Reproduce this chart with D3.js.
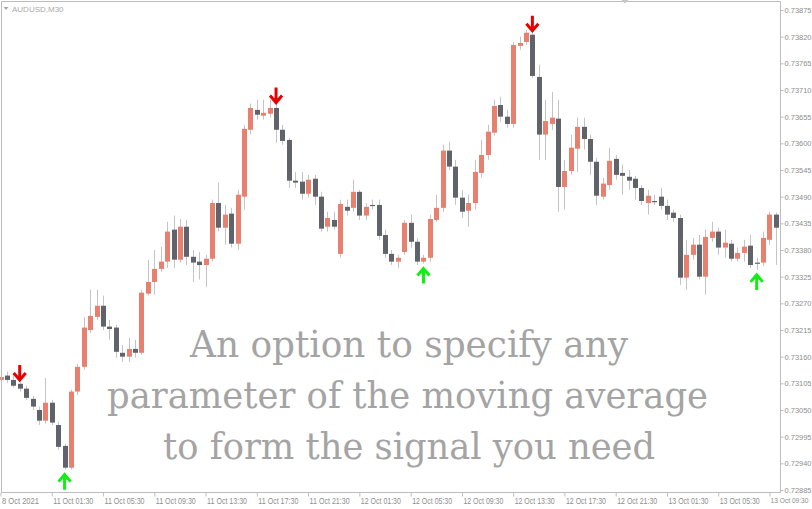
<!DOCTYPE html>
<html><head><meta charset="utf-8">
<script src="https://cdn.jsdelivr.net/npm/d3@7"></script>
<style>
html,body{margin:0;padding:0;background:#fff;}
svg{display:block;}
</style></head><body>
<svg id="chart" width="812" height="509"></svg>
<script>
const symbolLabel = "AUDUSD,M30";
const xTickLabels = ["8 Oct 2021","11 Oct 01:30","11 Oct 05:30","11 Oct 09:30","11 Oct 13:30","11 Oct 17:30","11 Oct 21:30","12 Oct 01:30","12 Oct 05:30","12 Oct 09:30","12 Oct 13:30","12 Oct 17:30","12 Oct 21:30","13 Oct 01:30","13 Oct 05:30","13 Oct 09:30"];
const priceTicks = [0.73875,0.73820,0.73765,0.73710,0.73655,0.73600,0.73545,0.73490,0.73435,0.73380,0.73325,0.73270,0.73215,0.73160,0.73105,0.73050,0.72995,0.72940,0.72885];

const openP = [0.73112,0.73121,0.73112,0.73104,0.73094,0.73073,0.73050,0.73028,0.73065,0.73019,
0.72976,0.72931,0.73088,0.73139,0.73215,0.73242,0.73265,0.73222,0.73220,0.73168,
0.73160,0.73176,0.73168,0.73290,0.73314,0.73341,0.73356,0.73422,0.73360,0.73428,
0.73366,0.73356,0.73349,0.73362,0.73477,0.73426,0.73455,0.73393,0.73490,0.73628,
0.73669,0.73657,0.73661,0.73673,0.73628,0.73607,0.73523,0.73521,0.73496,0.73527,
0.73490,0.73428,0.73442,0.73372,0.73469,0.73467,0.73500,0.73451,0.73473,0.73473,
0.73411,0.73372,0.73356,0.73376,0.73436,0.73397,0.73356,0.73364,0.73442,0.73467,
0.73585,0.73552,0.73488,0.73461,0.73477,0.73539,0.73576,0.73622,0.73679,0.73655,
0.73640,0.73801,0.73809,0.73824,0.73737,0.73618,0.73640,0.73651,0.73510,0.73543,
0.73589,0.73634,0.73609,0.73562,0.73490,0.73514,0.73568,0.73539,0.73531,0.73527,
0.73508,0.73477,0.73481,0.73490,0.73471,0.73457,0.73446,0.73323,0.73370,0.73391,
0.73325,0.73405,0.73418,0.73385,0.73393,0.73362,0.73374,0.73389,0.73354,0.73354,
0.73401,0.73453];
const highP = [0.73129,0.73129,0.73127,0.73110,0.73100,0.73079,0.73057,0.73116,0.73071,0.73026,
0.72980,0.73092,0.73145,0.73242,0.73298,0.73298,0.73286,0.73236,0.73226,0.73184,
0.73199,0.73195,0.73298,0.73360,0.73380,0.73387,0.73438,0.73451,0.73444,0.73442,
0.73380,0.73376,0.73370,0.73484,0.73519,0.73473,0.73467,0.73504,0.73638,0.73682,
0.73690,0.73690,0.73690,0.73682,0.73638,0.73611,0.73541,0.73541,0.73535,0.73535,
0.73500,0.73459,0.73459,0.73484,0.73484,0.73525,0.73504,0.73477,0.73484,0.73484,
0.73422,0.73380,0.73370,0.73442,0.73453,0.73405,0.73370,0.73453,0.73494,0.73597,
0.73603,0.73566,0.73504,0.73494,0.73566,0.73607,0.73638,0.73690,0.73696,0.73669,
0.73809,0.73820,0.73834,0.73830,0.73762,0.73690,0.73706,0.73690,0.73566,0.73618,
0.73653,0.73653,0.73618,0.73570,0.73529,0.73591,0.73576,0.73556,0.73545,0.73533,
0.73514,0.73504,0.73494,0.73508,0.73484,0.73463,0.73453,0.73401,0.73405,0.73411,
0.73422,0.73438,0.73426,0.73422,0.73401,0.73385,0.73401,0.73411,0.73364,0.73418,
0.73459,0.73457];
const lowP = [0.73108,0.73106,0.73096,0.73088,0.73071,0.73050,0.73019,0.73022,0.73019,0.72968,
0.72927,0.72927,0.73081,0.73133,0.73209,0.73236,0.73215,0.73195,0.73158,0.73149,
0.73149,0.73158,0.73164,0.73286,0.73288,0.73335,0.73343,0.73343,0.73354,0.73349,
0.73314,0.73319,0.73304,0.73356,0.73418,0.73391,0.73385,0.73380,0.73463,0.73618,
0.73649,0.73649,0.73653,0.73601,0.73597,0.73508,0.73508,0.73484,0.73488,0.73473,
0.73418,0.73418,0.73422,0.73364,0.73451,0.73459,0.73442,0.73442,0.73463,0.73401,
0.73364,0.73349,0.73343,0.73370,0.73385,0.73349,0.73352,0.73356,0.73438,0.73459,
0.73545,0.73473,0.73446,0.73428,0.73463,0.73529,0.73566,0.73616,0.73644,0.73632,
0.73632,0.73793,0.73803,0.73735,0.73566,0.73566,0.73628,0.73459,0.73463,0.73535,
0.73541,0.73587,0.73535,0.73473,0.73484,0.73504,0.73525,0.73494,0.73504,0.73484,
0.73473,0.73453,0.73473,0.73463,0.73442,0.73438,0.73308,0.73298,0.73360,0.73319,
0.73288,0.73397,0.73370,0.73364,0.73356,0.73356,0.73356,0.73343,0.73339,0.73347,
0.73391,0.73349];
const closeP = [0.73118,0.73112,0.73100,0.73094,0.73075,0.73057,0.73028,0.73065,0.73024,0.72974,
0.72931,0.73088,0.73139,0.73220,0.73244,0.73265,0.73222,0.73217,0.73170,0.73160,
0.73176,0.73168,0.73292,0.73314,0.73341,0.73356,0.73418,0.73360,0.73428,0.73366,
0.73354,0.73349,0.73362,0.73477,0.73426,0.73453,0.73393,0.73494,0.73630,0.73673,
0.73659,0.73663,0.73673,0.73628,0.73605,0.73523,0.73519,0.73496,0.73525,0.73490,
0.73424,0.73446,0.73428,0.73475,0.73461,0.73500,0.73451,0.73469,0.73471,0.73409,
0.73372,0.73356,0.73364,0.73436,0.73397,0.73356,0.73364,0.73444,0.73467,0.73585,
0.73552,0.73488,0.73459,0.73477,0.73541,0.73576,0.73624,0.73677,0.73655,0.73640,
0.73803,0.73807,0.73828,0.73739,0.73618,0.73646,0.73653,0.73510,0.73543,0.73591,
0.73634,0.73609,0.73562,0.73492,0.73517,0.73564,0.73535,0.73533,0.73523,0.73508,
0.73481,0.73492,0.73480,0.73471,0.73453,0.73446,0.73323,0.73370,0.73391,0.73325,
0.73407,0.73418,0.73385,0.73395,0.73362,0.73374,0.73387,0.73349,0.73352,0.73405,
0.73453,0.73426];
const sellSignals = [3, 43, 83];
const buySignals = [10, 66, 118];
const captionLines = ["An option to specify any", "parameter of the moving average", "to form the signal you need"];

const W = 812, H = 509;
const plotRight = 780.5, plotBottom = 492.5;
const N = openP.length;
const x = d3.scaleLinear().domain([0, N - 1]).range([0.5, 775.9]);
const y = d3.scaleLinear().domain([0.72885, 0.73875]).range([490, 10]);

const svg = d3.select("#chart");
svg.append("rect").attr("width", W).attr("height", H).attr("fill", "#ffffff");

svg.append("defs").append("clipPath").attr("id", "plotclip")
  .append("rect").attr("x", 0).attr("y", 0).attr("width", plotRight).attr("height", plotBottom);

const candles = d3.range(N).map(i => ({i, o: openP[i], h: highP[i], l: lowP[i], c: closeP[i]}));
const bull = "#e8806f", bear = "#606369", wickCol = "#c4c4c4";

const g = svg.append("g").attr("clip-path", "url(#plotclip)");
g.selectAll("line.wick").data(candles).join("line").attr("class", "wick")
  .attr("x1", d => Math.round(x(d.i)) + 0.5).attr("x2", d => Math.round(x(d.i)) + 0.5)
  .attr("y1", d => y(d.h)).attr("y2", d => y(d.l))
  .attr("stroke", wickCol).attr("stroke-width", 1);
g.selectAll("rect.body").data(candles).join("rect").attr("class", "body")
  .attr("x", d => Math.round(x(d.i)) - 2)
  .attr("width", 5)
  .attr("y", d => Math.min(y(d.o), y(d.c)))
  .attr("height", d => Math.max(1.2, Math.abs(y(d.o) - y(d.c))))
  .attr("fill", d => d.c >= d.o ? bull : bear);

// signal arrows
function arrowPath(cx, tipY, dir) {
  const len = 15, hw = 6, hh = 7;
  return `M${cx},${tipY - dir * len}L${cx},${tipY}M${cx - hw},${tipY - dir * hh}L${cx},${tipY}L${cx + hw},${tipY - dir * hh}`;
}
g.selectAll("path.sell").data(sellSignals).join("path").attr("class", "sell")
  .attr("d", i => arrowPath(x(i), y(highP[i]) - 1, 1))
  .attr("stroke", "#e60000").attr("stroke-width", 3).attr("fill", "none")
  .attr("stroke-linejoin", "miter");
g.selectAll("path.buy").data(buySignals).join("path").attr("class", "buy")
  .attr("d", i => arrowPath(x(i), y(lowP[i]) + 5, -1))
  .attr("stroke", "#11ee11").attr("stroke-width", 3).attr("fill", "none")
  .attr("stroke-linejoin", "miter");

// frame
const frameCol = "#bdbdbd";
svg.append("path").attr("d", `M1.5,${plotBottom}L1.5,1.5L${plotRight},1.5L${plotRight},${plotBottom}L1.5,${plotBottom}`)
  .attr("fill", "none").attr("stroke", frameCol).attr("stroke-width", 1);
svg.append("path").attr("d", "M621.5,0L628.5,0L625,3.5Z").attr("fill", "#c8c8c8");

// right price axis
const yAxis = d3.axisRight(y).tickValues(priceTicks).tickFormat(d3.format(".5f")).tickSize(3).tickPadding(1);
const ya = svg.append("g").attr("transform", `translate(${plotRight},0)`).call(yAxis);
ya.select(".domain").remove();
ya.selectAll(".tick line").attr("stroke", frameCol);
ya.selectAll(".tick text").attr("fill", "#8e8e8e").attr("font-family", "Liberation Sans, Arial, sans-serif")
  .attr("font-size", 8).attr("textLength", 27).attr("lengthAdjust", "spacingAndGlyphs");

// bottom time axis
const tickIdx = d3.range(0, N, 8);
const lastK = xTickLabels.length - 1;
const xAxis = d3.axisBottom(x).tickValues(tickIdx).tickFormat((d, k) => xTickLabels[k]).tickSize(4);
const xa = svg.append("g").attr("transform", `translate(0,${plotBottom})`).call(xAxis);
xa.select(".domain").remove();
xa.selectAll(".tick line").attr("stroke", frameCol);
xa.selectAll(".tick text").attr("fill", "#8e8e8e").attr("font-family", "Liberation Sans, Arial, sans-serif")
  .attr("font-size", (d, k) => k === lastK ? 7.5 : 8.5)
  .attr("text-anchor", (d, k) => k === lastK ? "end" : "start")
  .attr("x", (d, k) => k === lastK ? (808 - x(d)) : 1)
  .attr("y", 5).attr("dy", "0.71em")
  .attr("textLength", (d, k) => k === 0 ? 37 : (k === lastK ? 38 : 40))
  .attr("lengthAdjust", "spacingAndGlyphs");

// symbol label
svg.append("path").attr("d", "M3.5,7L8.5,7L6,10Z").attr("fill", "#a9a9a9");
svg.append("text").attr("x", 12).attr("y", 12).text(symbolLabel)
  .attr("fill", "#a9a9a9").attr("font-family", "Liberation Sans, Arial, sans-serif").attr("font-size", 8);

// caption
const capX = [190, 107, 163], capLen = [438, 601, 492], capY = [357, 408, 459];
svg.append("g").selectAll("text").data(captionLines).join("text")
  .attr("x", (d, k) => capX[k]).attr("y", (d, k) => capY[k])
  .attr("textLength", (d, k) => capLen[k]).attr("lengthAdjust", "spacingAndGlyphs")
  .attr("font-family", "DejaVu Serif, serif").attr("font-size", 38)
  .attr("fill", "#a4a4a4").text(d => d);
</script>
</body></html>
